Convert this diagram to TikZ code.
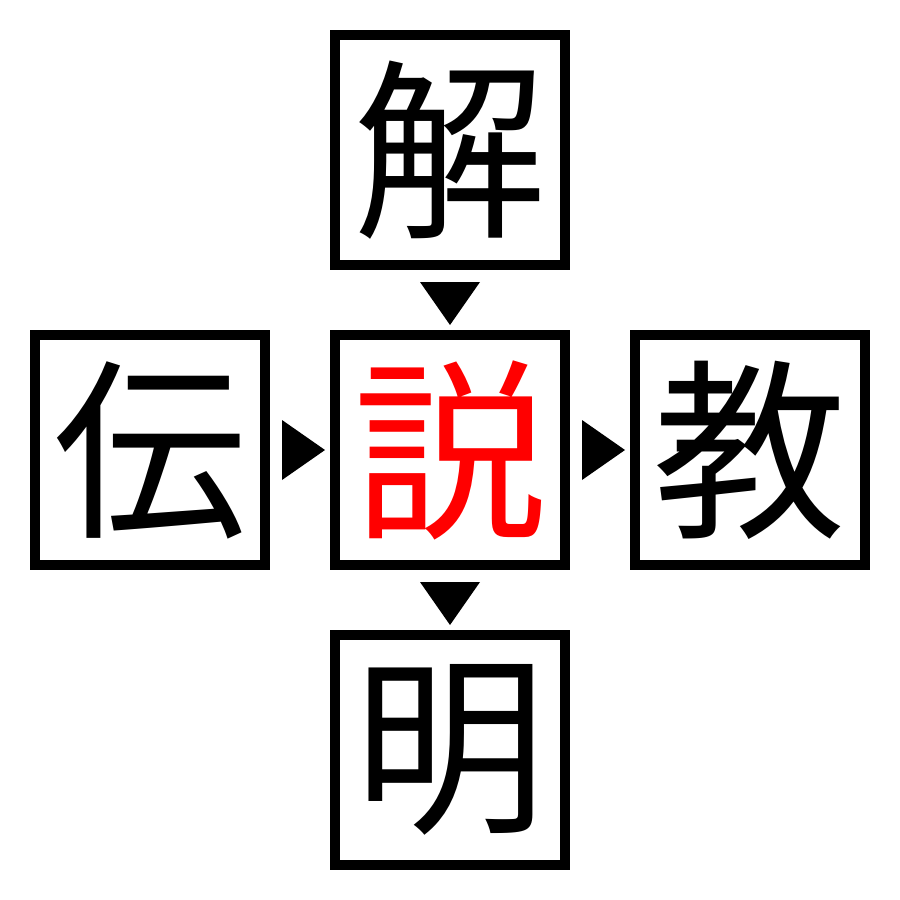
\documentclass[tikz,border=0pt]{standalone}
\usepackage{fontspec}
\newfontfamily\cjk{Noto Sans CJK JP}
\begin{document}
\begin{tikzpicture}[x=0.1mm,y=-0.1mm,
  kbox/.style={draw=black,line width=1mm,minimum size=23mm,inner sep=0pt,font=\cjk\fontsize{55}{55}\selectfont},
  tri/.style={fill=black}]
\useasboundingbox (0,0) rectangle (900,900);
\node[kbox] (top) at (450,150) {解};
\node[kbox] (left) at (150,450) {伝};
\node[kbox,text=red] (mid) at (450,450) {説};
\node[kbox] (right) at (750,450) {教};
\node[kbox] (bot) at (450,750) {明};
\fill[tri] (420,282) -- (480,282) -- (450,325) -- cycle;
\fill[tri] (420,582) -- (480,582) -- (450,625) -- cycle;
\fill[tri] (282,420) -- (282,480) -- (325,450) -- cycle;
\fill[tri] (582,420) -- (582,480) -- (625,450) -- cycle;
\end{tikzpicture}
\end{document}
